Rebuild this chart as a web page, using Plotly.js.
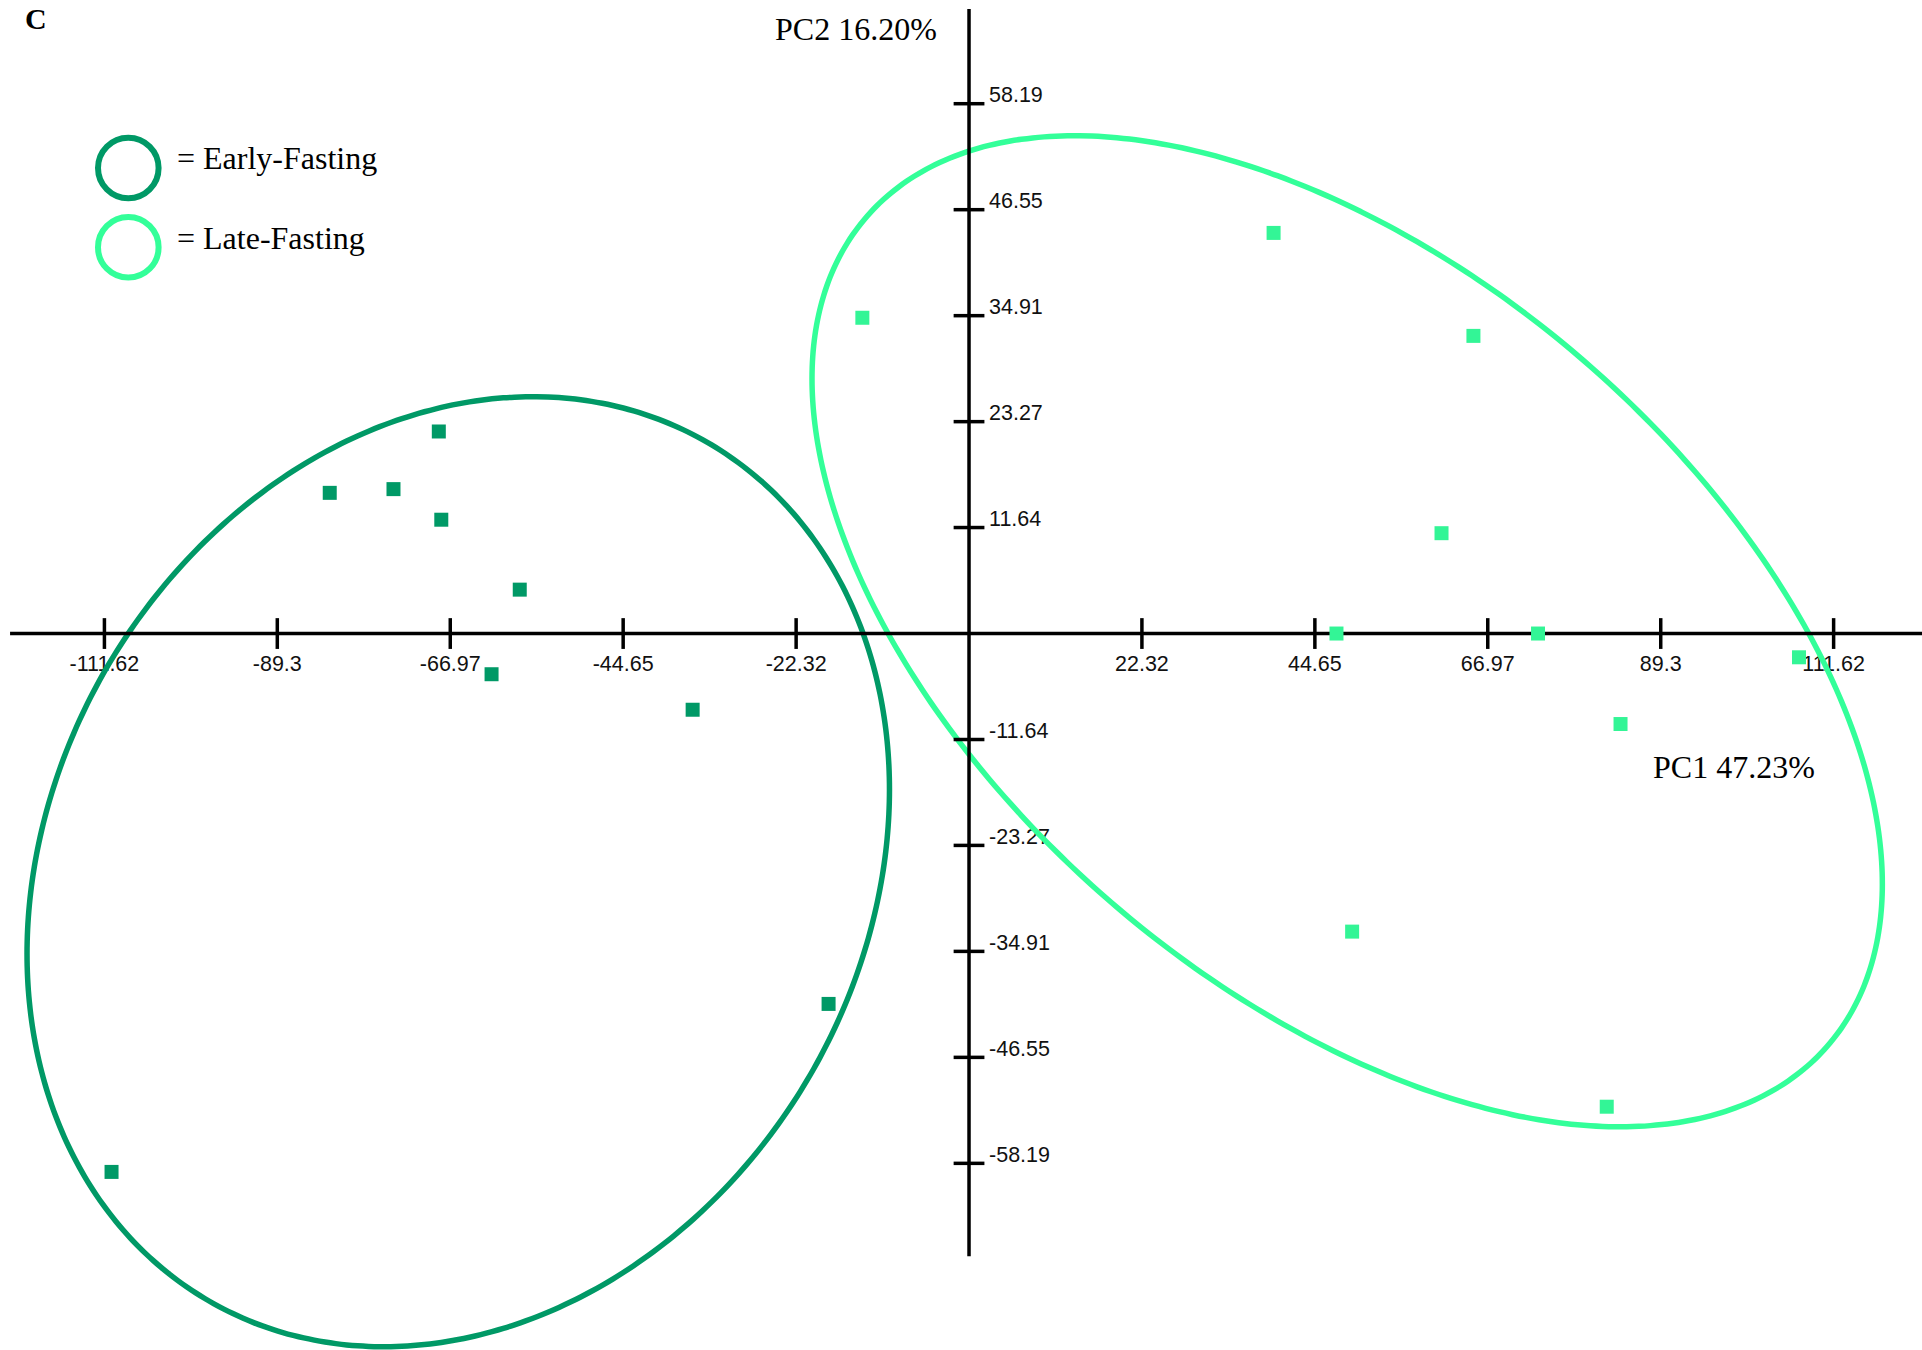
<!DOCTYPE html>
<html>
<head>
<meta charset="utf-8">
<script src="https://cdn.plot.ly/plotly-3.0.1.min.js"></script>
<style>
  html, body { margin: 0; padding: 0; background: #ffffff; overflow: hidden; }
  #chart { width: 1922px; height: 1350px; }
</style>
</head>
<body>
<div id="chart"></div>
<script>
// PCA score plot: PC1 vs PC2, early- and late-fasting samples with group ellipses.

// Tick positions and labels on the two principal-component axes
const pc1Ticks = [-111.62, -89.3, -66.97, -44.65, -22.32, 22.32, 44.65, 66.97, 89.3, 111.62];
const pc1TickLabels = ['-111.62', '-89.3', '-66.97', '-44.65', '-22.32', '22.32', '44.65', '66.97', '89.3', '111.62'];
const pc2Ticks = [58.19, 46.55, 34.91, 23.27, 11.64, -11.64, -23.27, -34.91, -46.55, -58.19];
const pc2TickLabels = ['58.19', '46.55', '34.91', '23.27', '11.64', '-11.64', '-23.27', '-34.91', '-46.55', '-58.19'];

// Sample scores, early fasting
const earlyPC1 = [-68.45, -82.53, -74.30, -68.13, -58.00, -61.64, -35.68, -18.13, -110.7];
const earlyPC2 = [22.19, 15.45, 15.86, 12.50, 4.82, -4.47, -8.37, -40.68, -59.13];

// Sample scores, late fasting
const latePC1 = [-13.77, 39.32, 65.12, 61.00, 47.44, 73.46, 107.15, 84.11, 49.46, 82.33];
const latePC2 = [34.68, 44.00, 32.69, 11.02, 0.00, 0.00, -2.61, -9.94, -32.74, -51.97];

// Group ellipses: centre, half-extent along PC1 / PC2 and PC1-PC2 correlation
const earlyEllipse = { center: [-65.94, -26.16], halfExtent: [55.67, 52.17], corr: 0.173 };
const lateEllipse  = { center: [48.82, 0.25],   halfExtent: [69.09, 54.42], corr: -0.510 };

const axisTitles = { pc1: 'PC1 47.23%', pc2: 'PC2 16.20%' };
const groupNames = ['Early-Fasting', 'Late-Fasting'];

// Styling
const DARK = 'rgb(0,153,102)';
const LIGHT = 'rgb(51,255,153)';
const LIGHT_PT = 'rgb(51,245,150)';
const W = 1922, H = 1350;
const X_RANGE = [-125.10, 123.03];
const Y_RANGE = [-78.69, 69.58];
const X_LINE = [-123.8, 123.03];
const Y_LINE = [-68.4, 68.6];

function ellipsePath(e) {
  const xs = [], ys = [];
  const n = 240;
  const s = Math.sqrt(1 - e.corr * e.corr);
  for (let i = 0; i <= n; i++) {
    const t = 2 * Math.PI * i / n;
    xs.push(e.center[0] + e.halfExtent[0] * Math.cos(t));
    ys.push(e.center[1] + e.halfExtent[1] * (e.corr * Math.cos(t) + s * Math.sin(t)));
  }
  return { xs, ys };
}

const pxPerX = W / (X_RANGE[1] - X_RANGE[0]);
const pxPerY = H / (Y_RANGE[1] - Y_RANGE[0]);

const tickFont = { family: 'Liberation Sans, Arial, sans-serif', size: 21.5, color: '#111111' };

const traces = [];

// tick labels (drawn first so marks sit over them)
traces.push({
  type: 'scatter', mode: 'text', hoverinfo: 'skip',
  x: pc1Ticks, y: pc1Ticks.map(() => -32.5 / pxPerY),
  text: pc1TickLabels, textposition: 'middle center',
  textfont: tickFont
});
traces.push({
  type: 'scatter', mode: 'text', hoverinfo: 'skip',
  x: pc2Ticks.map(() => 20 / pxPerX), y: pc2Ticks.map(v => v + 7 / pxPerY),
  text: pc2TickLabels, textposition: 'middle right',
  marker: { size: 1 },
  textfont: tickFont
});

// group ellipses
[[earlyEllipse, DARK], [lateEllipse, LIGHT]].forEach(([e, c]) => {
  const p = ellipsePath(e);
  traces.push({
    type: 'scatter', mode: 'lines', hoverinfo: 'skip',
    x: p.xs, y: p.ys, line: { color: c, width: 5.5, shape: 'spline' }
  });
});

// axis lines through the origin
traces.push({
  type: 'scatter', mode: 'lines', hoverinfo: 'skip',
  x: X_LINE, y: [0, 0], line: { color: '#000000', width: 3.5 }
});
traces.push({
  type: 'scatter', mode: 'lines', hoverinfo: 'skip',
  x: [0, 0], y: Y_LINE, line: { color: '#000000', width: 3.5 }
});

// tick crosses
traces.push({
  type: 'scatter', mode: 'markers', hoverinfo: 'skip',
  x: pc1Ticks, y: pc1Ticks.map(() => 0),
  marker: { symbol: 'line-ns', size: 22, line: { color: '#000000', width: 3.5 } }
});
traces.push({
  type: 'scatter', mode: 'markers', hoverinfo: 'skip',
  x: pc2Ticks.map(() => 0), y: pc2Ticks,
  marker: { symbol: 'line-ew', size: 22, line: { color: '#000000', width: 3.5 } }
});

// sample points
traces.push({
  type: 'scatter', mode: 'markers', name: groupNames[0],
  x: earlyPC1, y: earlyPC2,
  marker: { symbol: 'square', size: 14, color: DARK, line: { width: 0 } }
});
traces.push({
  type: 'scatter', mode: 'markers', name: groupNames[1],
  x: latePC1, y: latePC2,
  marker: { symbol: 'square', size: 14, color: LIGHT_PT, line: { width: 0 } }
});

const serif = 'Liberation Serif, Times New Roman, serif';
function note(text, px, py, size, bold) {
  return {
    xref: 'paper', yref: 'paper', x: px / W, y: 1 - py / H,
    xanchor: 'left', yanchor: 'middle', showarrow: false,
    text: bold ? '<b>' + text + '</b>' : text,
    font: { family: serif, size: size, color: '#000000' }
  };
}

// panel letter, kept fully inside the top edge
const panelLetter = {
  xref: 'paper', yref: 'paper', x: 23 / W, y: 1,
  xanchor: 'left', yanchor: 'top', showarrow: false,
  text: '<b>C</b>', font: { family: serif, size: 30, color: '#000000' }
};

const annotations = [
  panelLetter,
  note(axisTitles.pc2, 773, 28.7, 32),
  note(axisTitles.pc1, 1651, 767, 32),
  note('= ' + groupNames[0], 175, 157.5, 32),
  note('= ' + groupNames[1], 175, 237.5, 32)
];

function legendRing(cx, cy, color) {
  return {
    type: 'circle', xref: 'paper', yref: 'paper',
    xsizemode: 'pixel', ysizemode: 'pixel',
    xanchor: cx / W, yanchor: 1 - cy / H,
    x0: -30.3, x1: 30.3, y0: -30.3, y1: 30.3,
    line: { color: color, width: 6 }, fillcolor: 'rgba(0,0,0,0)'
  };
}

const layout = {
  width: W, height: H,
  margin: { l: 0, r: 0, t: 0, b: 0, pad: 0 },
  paper_bgcolor: '#ffffff', plot_bgcolor: '#ffffff',
  showlegend: false, hovermode: false,
  xaxis: { range: X_RANGE, visible: false, fixedrange: true },
  yaxis: { range: Y_RANGE, visible: false, fixedrange: true },
  annotations: annotations,
  shapes: [legendRing(128.3, 168, DARK), legendRing(128.3, 247.3, LIGHT)]
};

Plotly.newPlot('chart', traces, layout, { staticPlot: true, displayModeBar: false });
</script>
</body>
</html>
